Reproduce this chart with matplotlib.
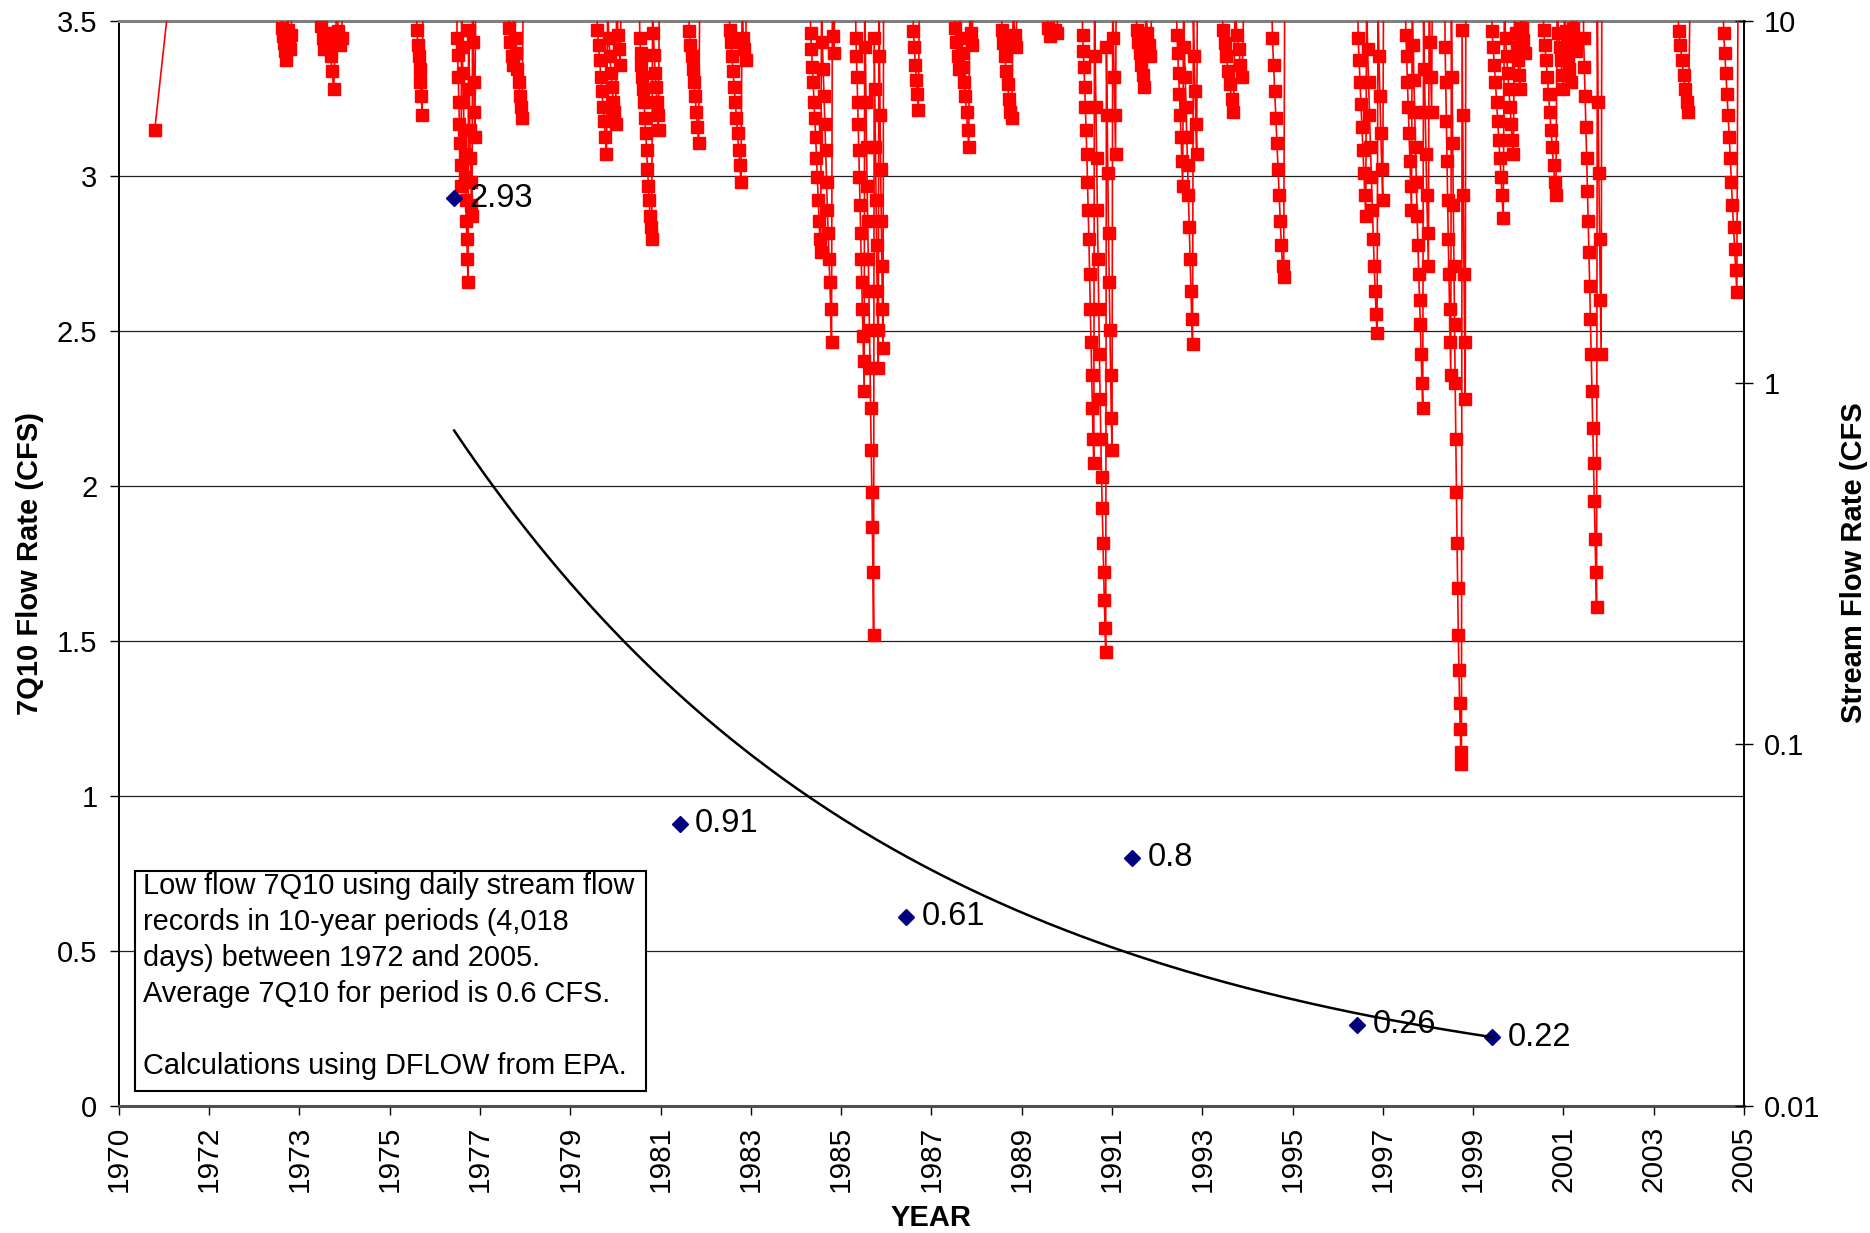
import numpy as np
import matplotlib
matplotlib.use('Agg')
import matplotlib.pyplot as plt
from matplotlib.patches import Rectangle

plt.rcParams['font.family'] = ['Liberation Sans', 'DejaVu Sans']

# 7Q10 low flow per 10-year window (decimal year of window centre)
q_years = [1977.30, 1982.16, 1987.04, 1991.90, 1996.75, 1999.66]
q_vals = [2.93, 0.91, 0.61, 0.80, 0.26, 0.22]

# x axis (Excel date axis, 19 ticks)
x_min, x_max = 1970.08, 2005.08
x_labels = ['1970', '1972', '1973', '1975', '1977', '1979', '1981', '1983', '1985', '1987',
            '1989', '1991', '1993', '1995', '1997', '1999', '2001', '2003', '2005']

# daily stream flow (CFS) during low-flow spells;
# each spell: start year, end year, flows in order (values > 10 are off scale)
spells = [
    (1970.85, 1971.23, [5.0, 14]),
    (1973.57, 1973.81, [14, 9.6, 9.1, 8.7, 8.3, 7.8, 8.6, 11, 9.5, 9.0, 8.4, 9.2, 13]),
    (1974.40, 1974.91, [15, 9.7, 9.0, 8.4, 12, 9.3, 8.6, 8.0, 7.3, 6.5, 8.8, 11, 9.4, 8.6, 9.0, 14]),
    (1976.48, 1976.63, [13, 9.5, 8.6, 8.0, 7.4, 6.8, 6.2, 5.5, 12]),
    (1977.35, 1977.76, [16, 9.0, 8.1, 7.0, 6.0, 5.2, 4.6, 4.0, 3.5, 12, 8.5, 7.2, 6.0, 5.0, 4.3, 3.7,
                        3.2, 2.8, 2.5, 2.2, 1.9, 9.5, 6.5, 5.0, 4.2, 3.6, 3.1, 2.9, 14, 8.8, 6.8, 5.6,
                        4.8, 11]),
    (1978.46, 1978.79, [15, 9.6, 8.8, 8.0, 7.6, 11, 9.0, 8.2, 7.4, 6.8, 6.2, 5.8, 5.4, 13]),
    (1980.36, 1980.90, [14, 9.5, 8.6, 7.8, 7.0, 6.4, 5.8, 5.3, 4.8, 4.3, 11, 9.0, 8.0, 7.2, 6.6, 6.0,
                        5.6, 5.2, 12, 9.2, 8.4, 7.6, 13]),
    (1981.28, 1981.72, [15, 9.0, 8.2, 7.6, 7.0, 6.5, 6.0, 5.4, 4.9, 4.4, 3.9, 3.5, 3.2, 2.9, 2.7, 2.5,
                        11, 9.3, 8.1, 7.2, 6.6, 6.0, 5.5, 5.0, 13]),
    (1982.34, 1982.59, [13, 9.4, 8.6, 8.0, 7.4, 6.8, 6.2, 5.6, 5.1, 4.6, 12]),
    (1983.21, 1983.60, [14, 9.5, 8.8, 8.0, 7.3, 6.6, 6.0, 5.4, 4.9, 4.4, 4.0, 3.6, 12, 9.0, 8.4, 7.8, 13]),
    (1984.96, 1985.50, [16, 9.3, 8.4, 7.5, 6.8, 6.0, 5.4, 4.8, 4.2, 3.7, 3.2, 2.8, 2.5, 2.3, 11, 8.8,
                        7.4, 6.2, 5.2, 4.4, 3.6, 3.0, 2.6, 2.2, 1.9, 1.6, 1.3, 12, 9.1, 8.2, 13]),
    (1985.94, 1986.55, [15, 9.0, 8.0, 7.0, 6.0, 5.2, 4.4, 3.7, 3.1, 2.6, 2.2, 1.9, 1.6, 1.35, 1.15, 0.95,
                        12, 8.5, 6.0, 4.5, 3.5, 2.8, 2.2, 1.8, 1.4, 1.1, 0.85, 0.65, 0.5, 0.4, 0.3, 0.2,
                        9.0, 6.5, 4.5, 3.2, 2.4, 1.8, 1.4, 1.1, 14, 8.0, 5.5, 3.9, 2.8, 2.1, 1.6, 1.25, 16]),
    (1987.17, 1987.32, [13, 9.4, 8.5, 7.6, 6.9, 6.3, 5.7, 12]),
    (1988.07, 1988.48, [14, 9.6, 8.8, 8.0, 7.4, 11, 9.0, 8.2, 7.5, 6.8, 6.2, 5.6, 5.0, 4.5, 12, 9.3, 8.6, 13]),
    (1989.07, 1989.43, [13, 9.5, 8.7, 8.0, 7.3, 6.7, 6.1, 5.6, 5.4, 11, 9.2, 8.5, 12]),
    (1990.05, 1990.33, [12, 9.6, 9.1, 11, 9.5, 9.3, 13]),
    (1990.82, 1991.56, [16, 9.2, 8.3, 7.5, 6.6, 5.8, 5.0, 4.3, 3.6, 3.0, 2.5, 2.0, 1.6, 1.3, 1.05, 0.85,
                        0.7, 0.6, 12, 8.0, 5.8, 4.2, 3.0, 2.2, 1.6, 1.2, 0.9, 0.7, 0.55, 0.45, 0.36, 0.3,
                        0.25, 0.21, 0.18, 8.5, 5.5, 3.8, 2.6, 1.9, 1.4, 1.05, 0.8, 0.65, 14, 9.0, 7.0,
                        5.5, 4.3, 15]),
    (1991.97, 1992.33, [13, 9.5, 8.8, 8.2, 7.6, 7.1, 6.6, 11, 9.3, 8.6, 8.0, 12]),
    (1992.85, 1993.31, [15, 9.2, 8.2, 7.2, 6.3, 5.5, 4.8, 4.1, 3.5, 11, 8.5, 7.0, 5.8, 4.8, 4.0, 3.3, 2.7,
                        2.2, 1.8, 1.5, 1.28, 10.5, 8.0, 6.4, 5.2, 4.3, 14]),
    (1993.82, 1994.31, [14, 9.5, 8.7, 8.0, 7.3, 6.7, 6.1, 5.6, 11, 9.2, 8.4, 7.6, 7.0, 12]),
    (1994.90, 1995.19, [14, 9.0, 7.6, 6.4, 5.4, 4.6, 3.9, 3.3, 2.8, 2.4, 2.1, 1.96, 13]),
    (1996.75, 1997.32, [16, 9.0, 7.8, 6.8, 5.9, 5.1, 4.4, 3.8, 3.3, 2.9, 12, 8.4, 6.8, 5.5, 4.5, 3.7, 3.0,
                        2.5, 2.1, 1.8, 1.55, 1.37, 11, 8.0, 6.2, 4.9, 3.9, 3.2, 15]),
    (1997.78, 1998.37, [15, 9.2, 8.0, 6.8, 5.8, 4.9, 4.1, 3.5, 3.0, 12, 8.6, 6.9, 5.6, 4.5, 3.6, 2.9, 2.4,
                        2.0, 1.7, 1.45, 1.2, 1.0, 0.85, 10.5, 7.4, 5.6, 4.3, 3.3, 2.6, 2.1, 13, 8.8, 7.0,
                        5.6, 14]),
    (1998.63, 1999.09, [15, 8.5, 6.8, 5.3, 4.1, 3.2, 2.5, 2.0, 1.6, 1.3, 1.05, 11, 7.0, 4.6, 3.1, 2.1,
                        1.45, 1.0, 0.7, 0.5, 0.36, 0.27, 0.2, 0.16, 0.13, 0.11, 0.095, 0.088, 9.5, 5.5,
                        3.3, 2.0, 1.3, 0.9, 14]),
    (1999.63, 2000.38, [16, 9.4, 8.5, 7.6, 6.8, 6.0, 5.3, 4.7, 4.2, 3.7, 3.3, 2.85, 12, 9.0, 8.0, 7.2, 6.5,
                        5.8, 5.2, 4.7, 4.3, 11, 9.3, 8.5, 7.8, 7.1, 6.5, 13, 9.6, 8.9, 8.2, 14]),
    (2000.74, 2001.48, [15, 9.5, 8.6, 7.8, 7.0, 6.3, 5.6, 5.0, 4.5, 4.0, 3.6, 3.3, 12, 9.3, 8.5, 7.8, 7.1,
                        6.5, 11, 9.4, 8.7, 8.0, 7.4, 6.8, 13, 9.6, 8.9, 8.3, 14]),
    (2001.61, 2002.02, [16, 9.0, 7.5, 6.2, 5.1, 4.2, 3.4, 2.8, 2.3, 1.85, 1.5, 1.2, 0.95, 0.75, 0.6, 0.47,
                        0.37, 0.3, 0.24, 10.5, 6.0, 3.8, 2.5, 1.7, 1.2, 15]),
    (2003.64, 2003.92, [13, 9.4, 8.6, 7.8, 7.1, 6.5, 6.0, 5.6, 12]),
    (2004.62, 2004.95, [14, 9.3, 8.2, 7.2, 6.3, 5.5, 4.8, 4.2, 3.6, 3.1, 2.7, 2.35, 2.05, 1.78, 11]),
]

box_text = ('Low flow 7Q10 using daily stream flow\n'
            'records in 10-year periods (4,018\n'
            'days) between 1972 and 2005.\n'
            'Average 7Q10 for period is 0.6 CFS.\n'
            '\n'
            'Calculations using DFLOW from EPA.')

flow_t = np.concatenate([np.linspace(a, b, len(v)) for a, b, v in spells])
flow_v = np.concatenate([np.array(v, dtype=float) for a, b, v in spells])

fig = plt.figure(figsize=(18.7, 12.33), dpi=100)
ax = fig.add_axes([0.0636, 0.1034, 0.8690, 0.8792])
ax2 = ax.twinx()
ax3 = ax.twinx()
ax.set_zorder(0)
ax2.set_zorder(1)
ax3.set_zorder(2)
ax2.patch.set_visible(False)
ax3.patch.set_visible(False)

# left axis: 7Q10, gridlines
ax.set_xlim(x_min, x_max)
ax.set_ylim(0, 3.5)
ax.set_yticks(np.arange(0, 3.51, 0.5))
ax.set_yticklabels(['0', '0.5', '1', '1.5', '2', '2.5', '3', '3.5'])
ax.yaxis.grid(True, color='#202020', lw=0.9)
ax.set_xticks(np.linspace(x_min, x_max, len(x_labels)))
ax.set_xticklabels(x_labels, rotation=90)
ax.tick_params(axis='y', direction='out', length=6.5, width=1, labelsize=21, pad=9)
ax.tick_params(axis='x', direction='out', length=6.5, width=1, labelsize=21.5, pad=8)
ax.spines['left'].set_linewidth(1.4)
ax.spines['right'].set_visible(False)
ax.spines['top'].set_color('#808080')
ax.spines['top'].set_linewidth(2.2)
ax.spines['bottom'].set_color('#505050')
ax.spines['bottom'].set_linewidth(2.2)

# right axis: daily stream flow (log)
ax2.set_yscale('log')
ax2.set_ylim(0.01, 10)
ax2.set_yticks([0.01, 0.1, 1, 10])
ax2.set_yticklabels(['0.01', '0.1', '1', '10'])
ax2.minorticks_off()
ax2.tick_params(axis='y', direction='inout', length=13, width=1, labelsize=21, pad=8)
ax2.spines['right'].set_linewidth(1.4)
for s in ['left', 'top', 'bottom']:
    ax2.spines[s].set_visible(False)
ax2.plot(flow_t, flow_v, color='red', lw=1.2, marker='s', ms=8.5, mec='red', mew=1.0)

# 7Q10 points, labels and exponential trend (least squares on ln y)
ax3.set_ylim(0, 3.5)
ax3.set_yticks([])
for s in ax3.spines.values():
    s.set_visible(False)
ax3.plot(q_years, q_vals, ls='none', marker='D', ms=8, color='#000080')
for xq, yq in zip(q_years, q_vals):
    ax3.annotate(f'{yq:g}', (xq, yq), xytext=(11, 0), textcoords='offset points',
                 va='center', ha='left', fontsize=23.5)
b, a = np.polyfit(np.array(q_years) - q_years[0], np.log(q_vals), 1)
tt = np.linspace(0, q_years[-1] - q_years[0], 200)
ax3.plot(tt + q_years[0], np.exp(a + b * tt), color='black', lw=1.8)

fig.patches.append(Rectangle((0.0722, 0.1152), 0.2733, 0.1784, transform=fig.transFigure,
                             fill=True, facecolor='white', edgecolor='black', lw=1.5, zorder=5))
fig.text(0.0765, 0.2925, box_text, fontsize=20.8, va='top', ha='left', linespacing=1.36, zorder=6)

fig.text(0.016, 0.543, '7Q10 Flow Rate (CFS)', rotation=90, fontsize=21, fontweight='bold',
         ha='center', va='center')
fig.text(0.9915, 0.544, 'Stream Flow Rate (CFS', rotation=90, fontsize=21, fontweight='bold',
         ha='center', va='center')
fig.text(0.498, 0.012, 'YEAR', fontsize=21, fontweight='bold', ha='center', va='center')

fig.savefig('out.png', dpi=100)
